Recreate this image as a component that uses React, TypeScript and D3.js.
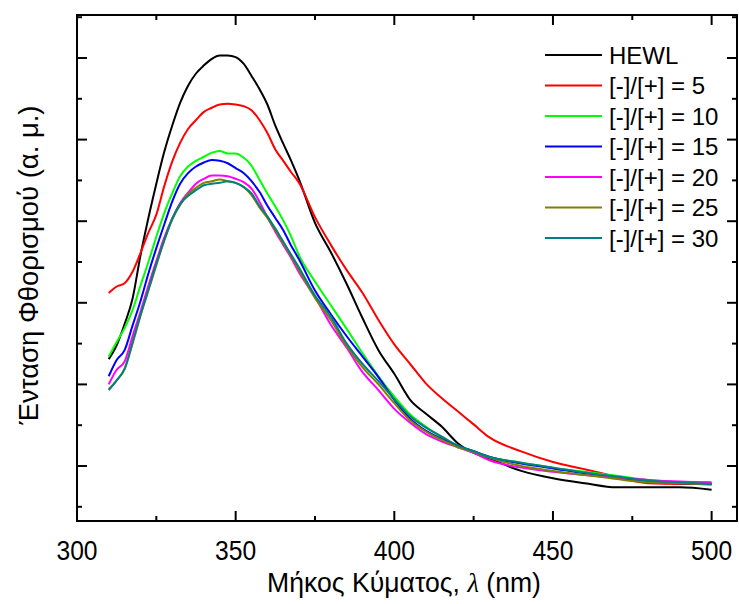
import React from "react";
import * as d3 from "d3";

// Emission wavelengths (nm) shared by all spectra
const wavelengths = [
  310, 312.5, 315, 317.5, 320, 322.5, 325, 327.5, 330, 332.5, 335, 337.5, 340,
  342.5, 345, 347.5, 350, 352.5, 355, 357.5, 360, 362.5, 365, 367.5, 370, 375,
  380, 385, 390, 395, 400, 405, 410, 415, 420, 425, 430, 440, 450, 460, 470,
  480, 490, 500,
];

// Fluorescence intensity (arbitrary units)
const hewl = [
  231, 248, 274, 305, 358, 404, 446, 485, 517, 545, 566, 581, 591, 599, 603,
  603, 601, 593, 578, 562, 543, 517, 495, 474, 451, 398, 362, 323, 281, 242,
  213, 181, 164, 148, 128, 116, 109, 94, 85, 79, 74, 74, 74, 71,
];
const ratio5 = [
  312, 320, 324, 338, 361, 386, 408, 443, 473, 496, 513, 524, 534, 539, 543,
  544, 543, 541, 536, 524, 508, 488, 474, 460, 447, 405, 371, 340, 312, 279,
  249, 225, 201, 183, 167, 151, 135, 118, 105, 96, 87, 79, 78, 78,
];
const ratio10 = [
  234, 252, 269, 291, 321, 350, 381, 410, 434, 455, 467, 474, 479, 484, 486,
  483, 483, 478, 468, 451, 434, 418, 401, 381, 358, 326, 297, 268, 238, 210,
  185, 163, 148, 135, 125, 118, 111, 104, 98, 93, 88, 83, 80, 79,
];
const ratio15 = [
  210, 230, 242, 272, 302, 336, 367, 396, 424, 446, 459, 467, 472, 475, 474,
  471, 465, 459, 449, 436, 419, 404, 389, 370, 353, 315, 286, 259, 234, 209,
  181, 158, 143, 133, 125, 118, 111, 103, 97, 91, 86, 82, 79, 78,
];
const ratio20 = [
  200, 218, 228, 259, 289, 321, 351, 380, 403, 422, 435, 446, 452, 456, 456,
  455, 452, 448, 440, 424, 405, 387, 371, 355, 337, 307, 273, 245, 215, 193,
  170, 153, 139, 130, 123, 116, 107, 98, 93, 89, 86, 83, 81, 80,
];
const ratio25 = [
  194, 205, 219, 250, 284, 315, 346, 376, 402, 420, 433, 441, 447, 449, 451,
  449, 447, 442, 432, 417, 404, 389, 373, 357, 340, 306, 279, 247, 221, 200,
  177, 156, 142, 132, 123, 117, 110, 100, 94, 89, 84, 80, 79, 77,
];
const ratio30 = [
  193, 205, 219, 251, 285, 316, 348, 377, 403, 421, 431, 438, 444, 446, 447,
  449, 447, 442, 434, 419, 406, 391, 375, 359, 343, 309, 283, 250, 225, 204,
  182, 161, 147, 136, 125, 118, 111, 104, 98, 92, 87, 82, 80, 78,
];

const seriesNames = [
  "HEWL",
  "[-]/[+] = 5",
  "[-]/[+] = 10",
  "[-]/[+] = 15",
  "[-]/[+] = 20",
  "[-]/[+] = 25",
  "[-]/[+] = 30",
];
const seriesValues = [hewl, ratio5, ratio10, ratio15, ratio20, ratio25, ratio30];
const seriesColors = [
  "#000000",
  "#ff0000",
  "#00ff00",
  "#0000ff",
  "#ff00ff",
  "#808000",
  "#008080",
];

const xMajorTicks = [300, 350, 400, 450, 500];
const xMinorTicks = [325, 375, 425, 475];
const yMajorTicks = [100, 200, 300, 400, 500, 600];
const yMinorTicks = [50, 150, 250, 350, 450, 550, 650];

const W = 739;
const H = 604;
const left = 77;
const right = 737;
const top = 15;
const bottom = 521;
const font = "'Liberation Sans', Arial, sans-serif";

export default function App() {
  const x = d3.scaleLinear().domain([300, 508]).range([left, right]);
  const y = d3.scaleLinear().domain([32.6, 652.7]).range([bottom, top]);

  const line = d3
    .line<[number, number]>()
    .x((d) => x(d[0]))
    .y((d) => y(d[1]))
    .curve(d3.curveMonotoneX);

  const majorLen = 10;
  const minorLen = 5;

  return (
    <svg
      width={W}
      height={H}
      style={{ position: "absolute", left: 0, top: 0, background: "#fff" }}
    >
      <rect x={0} y={0} width={W} height={H} fill="#fff" />

      {/* spectra */}
      <g fill="none" strokeWidth={2} strokeLinejoin="round">
        {seriesValues.map((vals, i) => (
          <path
            key={seriesNames[i]}
            d={line(wavelengths.map((w, j) => [w, vals[j]])) || ""}
            stroke={seriesColors[i]}
          />
        ))}
      </g>

      {/* frame */}
      <rect
        x={left}
        y={top}
        width={right - left}
        height={bottom - top}
        fill="none"
        stroke="#000"
        strokeWidth={2}
      />

      {/* inward ticks on all four sides */}
      <g stroke="#000" strokeWidth={2}>
        {xMajorTicks.map((t) => (
          <g key={"xM" + t}>
            <line x1={x(t)} x2={x(t)} y1={bottom} y2={bottom - majorLen} />
            <line x1={x(t)} x2={x(t)} y1={top} y2={top + majorLen} />
          </g>
        ))}
        {xMinorTicks.map((t) => (
          <g key={"xm" + t}>
            <line x1={x(t)} x2={x(t)} y1={bottom} y2={bottom - minorLen} />
            <line x1={x(t)} x2={x(t)} y1={top} y2={top + minorLen} />
          </g>
        ))}
        {yMajorTicks.map((t) => (
          <g key={"yM" + t}>
            <line x1={left} x2={left + majorLen} y1={y(t)} y2={y(t)} />
            <line x1={right} x2={right - majorLen} y1={y(t)} y2={y(t)} />
          </g>
        ))}
        {yMinorTicks.map((t) => (
          <g key={"ym" + t}>
            <line x1={left} x2={left + minorLen} y1={y(t)} y2={y(t)} />
            <line x1={right} x2={right - minorLen} y1={y(t)} y2={y(t)} />
          </g>
        ))}
      </g>

      {/* x tick labels */}
      <g fontFamily={font} fontSize={28} textAnchor="middle" fill="#000">
        {xMajorTicks.map((t) => (
          <text
            key={"xl" + t}
            transform={`translate(${x(t)}, 560) scale(0.88, 1)`}
          >
            {t}
          </text>
        ))}
      </g>

      {/* axis titles */}
      <text
        transform="translate(404, 592) scale(0.95, 1)"
        fontFamily={font}
        fontSize={28}
        textAnchor="middle"
        fill="#000"
      >
        Μήκος Κύματος,{" "}
        <tspan fontFamily="'Liberation Serif', 'Times New Roman', serif" fontStyle="italic">
          λ
        </tspan>{" "}
        (nm)
      </text>
      <text
        transform={`translate(38, 265) rotate(-90) scale(0.98, 1)`}
        fontFamily={font}
        fontSize={28}
        textAnchor="middle"
        fill="#000"
      >
        Ένταση Φθορισμού (α. μ.)
      </text>

      {/* legend */}
      <g fontFamily={font} fontSize={24} fill="#000">
        {seriesNames.map((name, i) => {
          const ly = 55 + i * 30.5;
          return (
            <g key={"lg" + name}>
              <line
                x1={545}
                x2={602}
                y1={ly}
                y2={ly}
                stroke={seriesColors[i]}
                strokeWidth={2}
              />
              <text x={609} y={ly + 8.5}>
                {name}
              </text>
            </g>
          );
        })}
      </g>
    </svg>
  );
}
